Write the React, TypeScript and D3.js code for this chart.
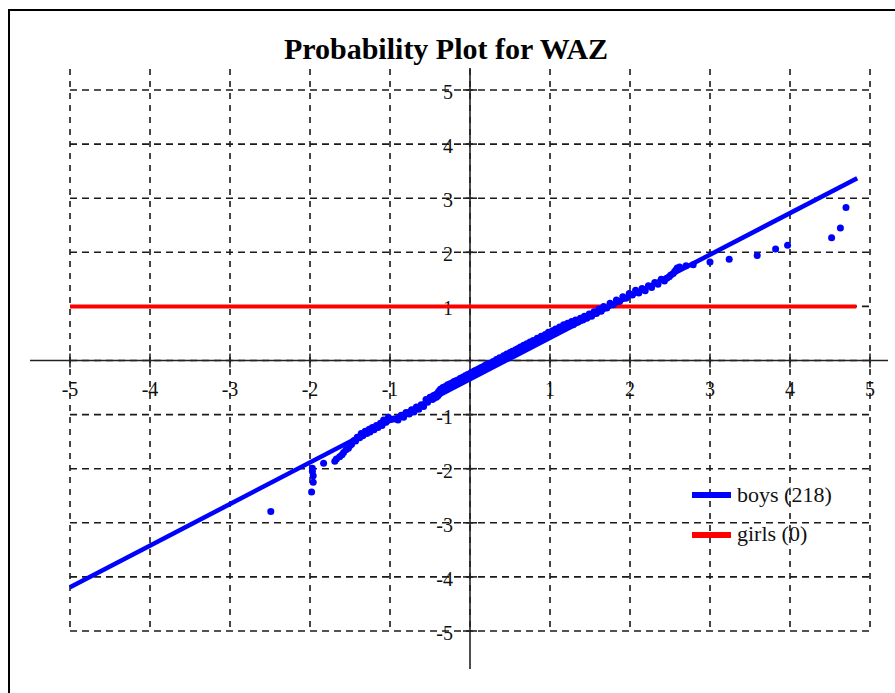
import React from "react";
import * as d3 from "d3";

const title = "Probability Plot for WAZ";
const xTicks = [-5, -4, -3, -2, -1, 1, 2, 3, 4, 5];
const yTicks = [5, 4, 3, 2, 1, -1, -2, -3, -4, -5];
const gridValues = [-5, -4, -3, -2, -1, 0, 1, 2, 3, 4, 5];

const legendLabels = ["boys (218)", "girls (0)"];
const seriesColors = ["#0000ff", "#ff0000"];

// reference line for boys (normal fit)
const boysRefLine: [number, number][] = [
  [-5, -4.19],
  [4.84, 3.37],
];
// girls (0) line
const girlsLine: [number, number][] = [
  [-5, 1],
  [4.83, 1],
];

// observed points (x = WAZ, y = normal score)
const boysPoints: [number, number][] = [
  [-2.49, -2.79], [-1.98, -2.43], [-1.96, -2.25], [-1.96, -2.13], [-1.97, -2.05], [-1.97, -1.99],
  [-1.83, -1.9], [-1.69, -1.86], [-1.67, -1.82], [-1.63, -1.78], [-1.6, -1.74], [-1.58, -1.7],
  [-1.55, -1.65], [-1.52, -1.62], [-1.5, -1.57], [-1.48, -1.55], [-1.45, -1.48], [-1.43, -1.49],
  [-1.41, -1.42], [-1.38, -1.43], [-1.36, -1.35], [-1.34, -1.39], [-1.31, -1.31], [-1.29, -1.35],
  [-1.26, -1.27], [-1.25, -1.32], [-1.22, -1.24], [-1.2, -1.28], [-1.17, -1.2], [-1.15, -1.24],
  [-1.12, -1.16], [-1.1, -1.2], [-1.08, -1.1], [-1.05, -1.14], [-1.02, -1.05], [-0.99, -1.09],
  [-0.95, -1.08], [-0.9, -1.1], [-0.86, -1.01], [-0.83, -1.05], [-0.8, -0.96], [-0.76, -0.99],
  [-0.73, -0.91], [-0.7, -0.95], [-0.67, -0.86], [-0.64, -0.9], [-0.61, -0.82], [-0.58, -0.85],
  [-0.55, -0.72], [-0.53, -0.77], [-0.5, -0.68], [-0.47, -0.72], [-0.46, -0.65], [-0.45, -0.7],
  [-0.44, -0.64], [-0.42, -0.68], [-0.41, -0.61], [-0.4, -0.65], [-0.39, -0.57], [-0.38, -0.61],
  [-0.37, -0.53], [-0.36, -0.58], [-0.34, -0.5], [-0.33, -0.55], [-0.31, -0.48], [-0.3, -0.53],
  [-0.28, -0.45], [-0.27, -0.51], [-0.25, -0.43], [-0.24, -0.48], [-0.22, -0.41], [-0.21, -0.46],
  [-0.2, -0.39], [-0.18, -0.44], [-0.17, -0.37], [-0.15, -0.41], [-0.14, -0.35], [-0.13, -0.4],
  [-0.12, -0.33], [-0.1, -0.38], [-0.09, -0.31], [-0.07, -0.35], [-0.06, -0.28], [-0.04, -0.33],
  [-0.03, -0.26], [-0.01, -0.31], [0.0, -0.24], [0.01, -0.29], [0.02, -0.22], [0.03, -0.28],
  [0.04, -0.21], [0.05, -0.26], [0.06, -0.19], [0.07, -0.24], [0.08, -0.18], [0.09, -0.23],
  [0.1, -0.16], [0.11, -0.21], [0.12, -0.15], [0.13, -0.2], [0.14, -0.13], [0.15, -0.18],
  [0.16, -0.12], [0.17, -0.17], [0.18, -0.1], [0.19, -0.15], [0.2, -0.08], [0.21, -0.14],
  [0.22, -0.07], [0.24, -0.11], [0.25, -0.05], [0.27, -0.09], [0.29, -0.02], [0.31, -0.06],
  [0.33, 0.02], [0.35, -0.03], [0.37, 0.05], [0.4, 0.01], [0.42, 0.09], [0.44, 0.04],
  [0.46, 0.12], [0.48, 0.07], [0.5, 0.15], [0.52, 0.1], [0.53, 0.17], [0.55, 0.13],
  [0.57, 0.2], [0.58, 0.15], [0.6, 0.22], [0.62, 0.18], [0.63, 0.25], [0.65, 0.2],
  [0.67, 0.28], [0.69, 0.23], [0.71, 0.31], [0.73, 0.26], [0.75, 0.34], [0.77, 0.29],
  [0.79, 0.37], [0.82, 0.33], [0.84, 0.41], [0.86, 0.36], [0.89, 0.45], [0.91, 0.4],
  [0.94, 0.48], [0.96, 0.44], [0.98, 0.52], [1.0, 0.47], [1.03, 0.55], [1.05, 0.51],
  [1.07, 0.58], [1.1, 0.55], [1.12, 0.62], [1.14, 0.58], [1.17, 0.66], [1.19, 0.62],
  [1.22, 0.69], [1.24, 0.64], [1.27, 0.72], [1.29, 0.66], [1.32, 0.75], [1.35, 0.71],
  [1.38, 0.78], [1.41, 0.75], [1.43, 0.82], [1.46, 0.78], [1.49, 0.86], [1.52, 0.82],
  [1.55, 0.9], [1.58, 0.87], [1.61, 0.95], [1.64, 0.91], [1.67, 1.0], [1.71, 0.97],
  [1.75, 1.06], [1.79, 1.03], [1.83, 1.12], [1.87, 1.09], [1.91, 1.18], [1.95, 1.15],
  [1.99, 1.24], [2.03, 1.21], [2.07, 1.3], [2.11, 1.25], [2.15, 1.33], [2.19, 1.29],
  [2.23, 1.38], [2.27, 1.35], [2.31, 1.44], [2.35, 1.41], [2.39, 1.5], [2.43, 1.47],
  [2.46, 1.52],
  [2.49, 1.55], [2.51, 1.58], [2.54, 1.61], [2.56, 1.65], [2.58, 1.68], [2.59, 1.71],
  [2.62, 1.73], [2.7, 1.75], [2.79, 1.77], [3.0, 1.82], [3.24, 1.87], [3.59, 1.94],
  [3.82, 2.06], [3.97, 2.13], [4.52, 2.27], [4.63, 2.45], [4.7, 2.83],
];

const W = 895;
const H = 693;
const SERIF = "'Liberation Serif', 'Times New Roman', serif";

export default function App() {
  const x = d3.scaleLinear().domain([-5, 5]).range([70, 870]);
  const y = d3.scaleLinear().domain([-5, 5]).range([631, 90]);
  const line = d3
    .line<[number, number]>()
    .x((d) => x(d[0]))
    .y((d) => y(d[1]));

  const gridTop = 69;
  const gridBottom = y(-5);
  const gridLeft = x(-5);
  const gridRight = x(5);

  return (
    <svg
      width={W}
      height={H}
      style={{ position: "absolute", left: 0, top: 0, background: "#fff" }}
      fontFamily={SERIF}
    >
      <rect x={0} y={0} width={W} height={H} fill="#fff" />
      <rect x={9} y={10} width={W + 20} height={H + 20} fill="none" stroke="#000" strokeWidth={2} />

      <text x={446} y={58.5} textAnchor="middle" fontSize={30} fontWeight="bold" fill="#000">
        {title}
      </text>

      {/* grid */}
      <g stroke="#1a1a1a" strokeWidth={1.6} fill="none">
        {gridValues.map((v) => (
          <line key={"gv" + v} x1={x(v)} x2={x(v)} y1={gridTop} y2={gridBottom} strokeDasharray="6,6" />
        ))}
        {gridValues.map((v) => (
          <line key={"gh" + v} x1={gridLeft} x2={gridRight} y1={y(v)} y2={y(v)} strokeDasharray="7,5" />
        ))}
      </g>

      {/* axes */}
      <g stroke="#222" strokeWidth={1.6}>
        <line x1={30} x2={888} y1={y(0)} y2={y(0)} />
        <line x1={x(0)} x2={x(0)} y1={68} y2={669} />
        {xTicks.map((v) => (
          <line key={"xt" + v} x1={x(v)} x2={x(v)} y1={y(0) - 7} y2={y(0) + 7} />
        ))}
        {yTicks.map((v) => (
          <line key={"yt" + v} x1={x(0) - 7} x2={x(0) + 7} y1={y(v)} y2={y(v)} />
        ))}
      </g>

      {/* tick labels */}
      <g fontSize={20} fill="#111">
        {xTicks.map((v) => (
          <text key={"xl" + v} x={x(v)} y={y(0) + 35} textAnchor="middle">
            {String(v)}
          </text>
        ))}
        {yTicks.map((v) => (
          <text key={"yl" + v} x={x(0) - 17} y={y(v) + 9} textAnchor="end">
            {String(v)}
          </text>
        ))}
      </g>

      {/* girls line */}
      <path d={line(girlsLine) || ""} stroke={seriesColors[1]} strokeWidth={4} fill="none" />

      {/* boys reference line */}
      <path d={line(boysRefLine) || ""} stroke={seriesColors[0]} strokeWidth={4.5} fill="none" />

      {/* boys points */}
      <g fill={seriesColors[0]}>
        {boysPoints.map((d, i) => (
          <circle key={i} cx={x(d[0])} cy={y(d[1])} r={3.5} />
        ))}
      </g>

      {/* legend */}
      <g>
        {legendLabels.map((lab, i) => (
          <g key={lab}>
            <line x1={692} x2={731} y1={495 + i * 40} y2={495 + i * 40} stroke={seriesColors[i]} strokeWidth={6} />
            <text x={737} y={502 + i * 39} fontSize={22} fill="#111">
              {lab}
            </text>
          </g>
        ))}
      </g>
    </svg>
  );
}
